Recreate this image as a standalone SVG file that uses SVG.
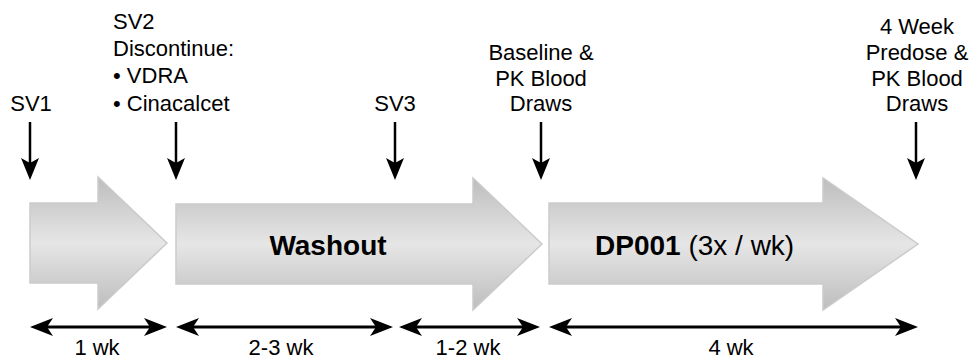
<svg xmlns="http://www.w3.org/2000/svg" width="969" height="360" viewBox="0 0 969 360">
<style>
text{font-family:"Liberation Sans",Arial,sans-serif;fill:#000}
.lbl{font-size:22px}
.mid{text-anchor:middle}
.big{font-size:28px}
.b{font-weight:bold}
.blk{fill:url(#g);stroke:#cbcbcb;stroke-width:1.5}
.hl{stroke:#000;stroke-width:3;fill:none}
.vl{stroke:#000;stroke-width:2.5;fill:none}
</style>
<defs>
<linearGradient id="g" x1="0" y1="0" x2="0" y2="1">
<stop offset="0" stop-color="#bdbdbd"/>
<stop offset="0.5" stop-color="#e6e6e6"/>
<stop offset="1" stop-color="#bdbdbd"/>
</linearGradient>
<marker id="h" markerUnits="userSpaceOnUse" markerWidth="23" markerHeight="18" viewBox="0 0 23 18" refX="6" refY="9" orient="auto-start-reverse">
<path d="M0,0 L23,9 L0,18 L6,9 Z" fill="#000"/>
</marker>
<marker id="v" markerUnits="userSpaceOnUse" markerWidth="22" markerHeight="18" viewBox="0 0 22 18" refX="5" refY="9" orient="auto">
<path d="M0,0 L22,9 L0,18 L5,9 Z" fill="#000"/>
</marker>
</defs>
<g id="screening">
<path class="blk" d="M30,203 H98 V177 L167,243 L98,309 V283 H30 Z"/>
</g>
<g id="washout">
<path class="blk" d="M176,204 H473 V178 L542,244 L473,310 V284 H176 Z"/>
<text class="big b mid" x="328" y="255">Washout</text>
</g>
<g id="dp001">
<path class="blk" d="M549,203 H823 V178 L918,244 L823,310 V284 H549 Z"/>
<text class="big" x="595" y="255"><tspan class="b">DP001</tspan> (3x / wk)</text>
</g>
<g id="sv1">
<text class="lbl mid" x="31" y="111">SV1</text>
</g>
<g id="sv2">
<text class="lbl" x="113" y="29">SV2</text>
<text class="lbl" x="113" y="56">Discontinue:</text>
<text class="lbl" x="113" y="83">• VDRA</text>
<text class="lbl" x="113" y="111">• Cinacalcet</text>
</g>
<g id="sv3">
<text class="lbl mid" x="395" y="111">SV3</text>
</g>
<g id="baseline">
<text class="lbl mid" x="541" y="60">Baseline &amp;</text>
<text class="lbl mid" x="541" y="86">PK Blood</text>
<text class="lbl mid" x="541" y="111">Draws</text>
</g>
<g id="week4">
<text class="lbl mid" x="917" y="34">4 Week</text>
<text class="lbl mid" x="917" y="60">Predose &amp;</text>
<text class="lbl mid" x="917" y="86">PK Blood</text>
<text class="lbl mid" x="917" y="111">Draws</text>
</g>
<g id="connectors">
<line class="vl" x1="30" y1="122" x2="30" y2="163" marker-end="url(#v)"/>
<line class="vl" x1="176" y1="122" x2="176" y2="163" marker-end="url(#v)"/>
<line class="vl" x1="395" y1="122" x2="395" y2="163" marker-end="url(#v)"/>
<line class="vl" x1="541" y1="122" x2="541" y2="163" marker-end="url(#v)"/>
<line class="vl" x1="916" y1="122" x2="916" y2="163" marker-end="url(#v)"/>
<line class="hl" x1="47" y1="327" x2="150" y2="327" marker-start="url(#h)" marker-end="url(#h)"/>
<line class="hl" x1="193" y1="327" x2="376" y2="327" marker-start="url(#h)" marker-end="url(#h)"/>
<line class="hl" x1="416" y1="327" x2="523" y2="327" marker-start="url(#h)" marker-end="url(#h)"/>
<line class="hl" x1="566" y1="327" x2="901" y2="327" marker-start="url(#h)" marker-end="url(#h)"/>
</g>
<g id="durations">
<text class="lbl mid" x="97" y="355">1 wk</text>
<text class="lbl mid" x="281" y="355">2-3 wk</text>
<text class="lbl mid" x="468" y="355">1-2 wk</text>
<text class="lbl mid" x="731" y="355">4 wk</text>
</g>
</svg>
